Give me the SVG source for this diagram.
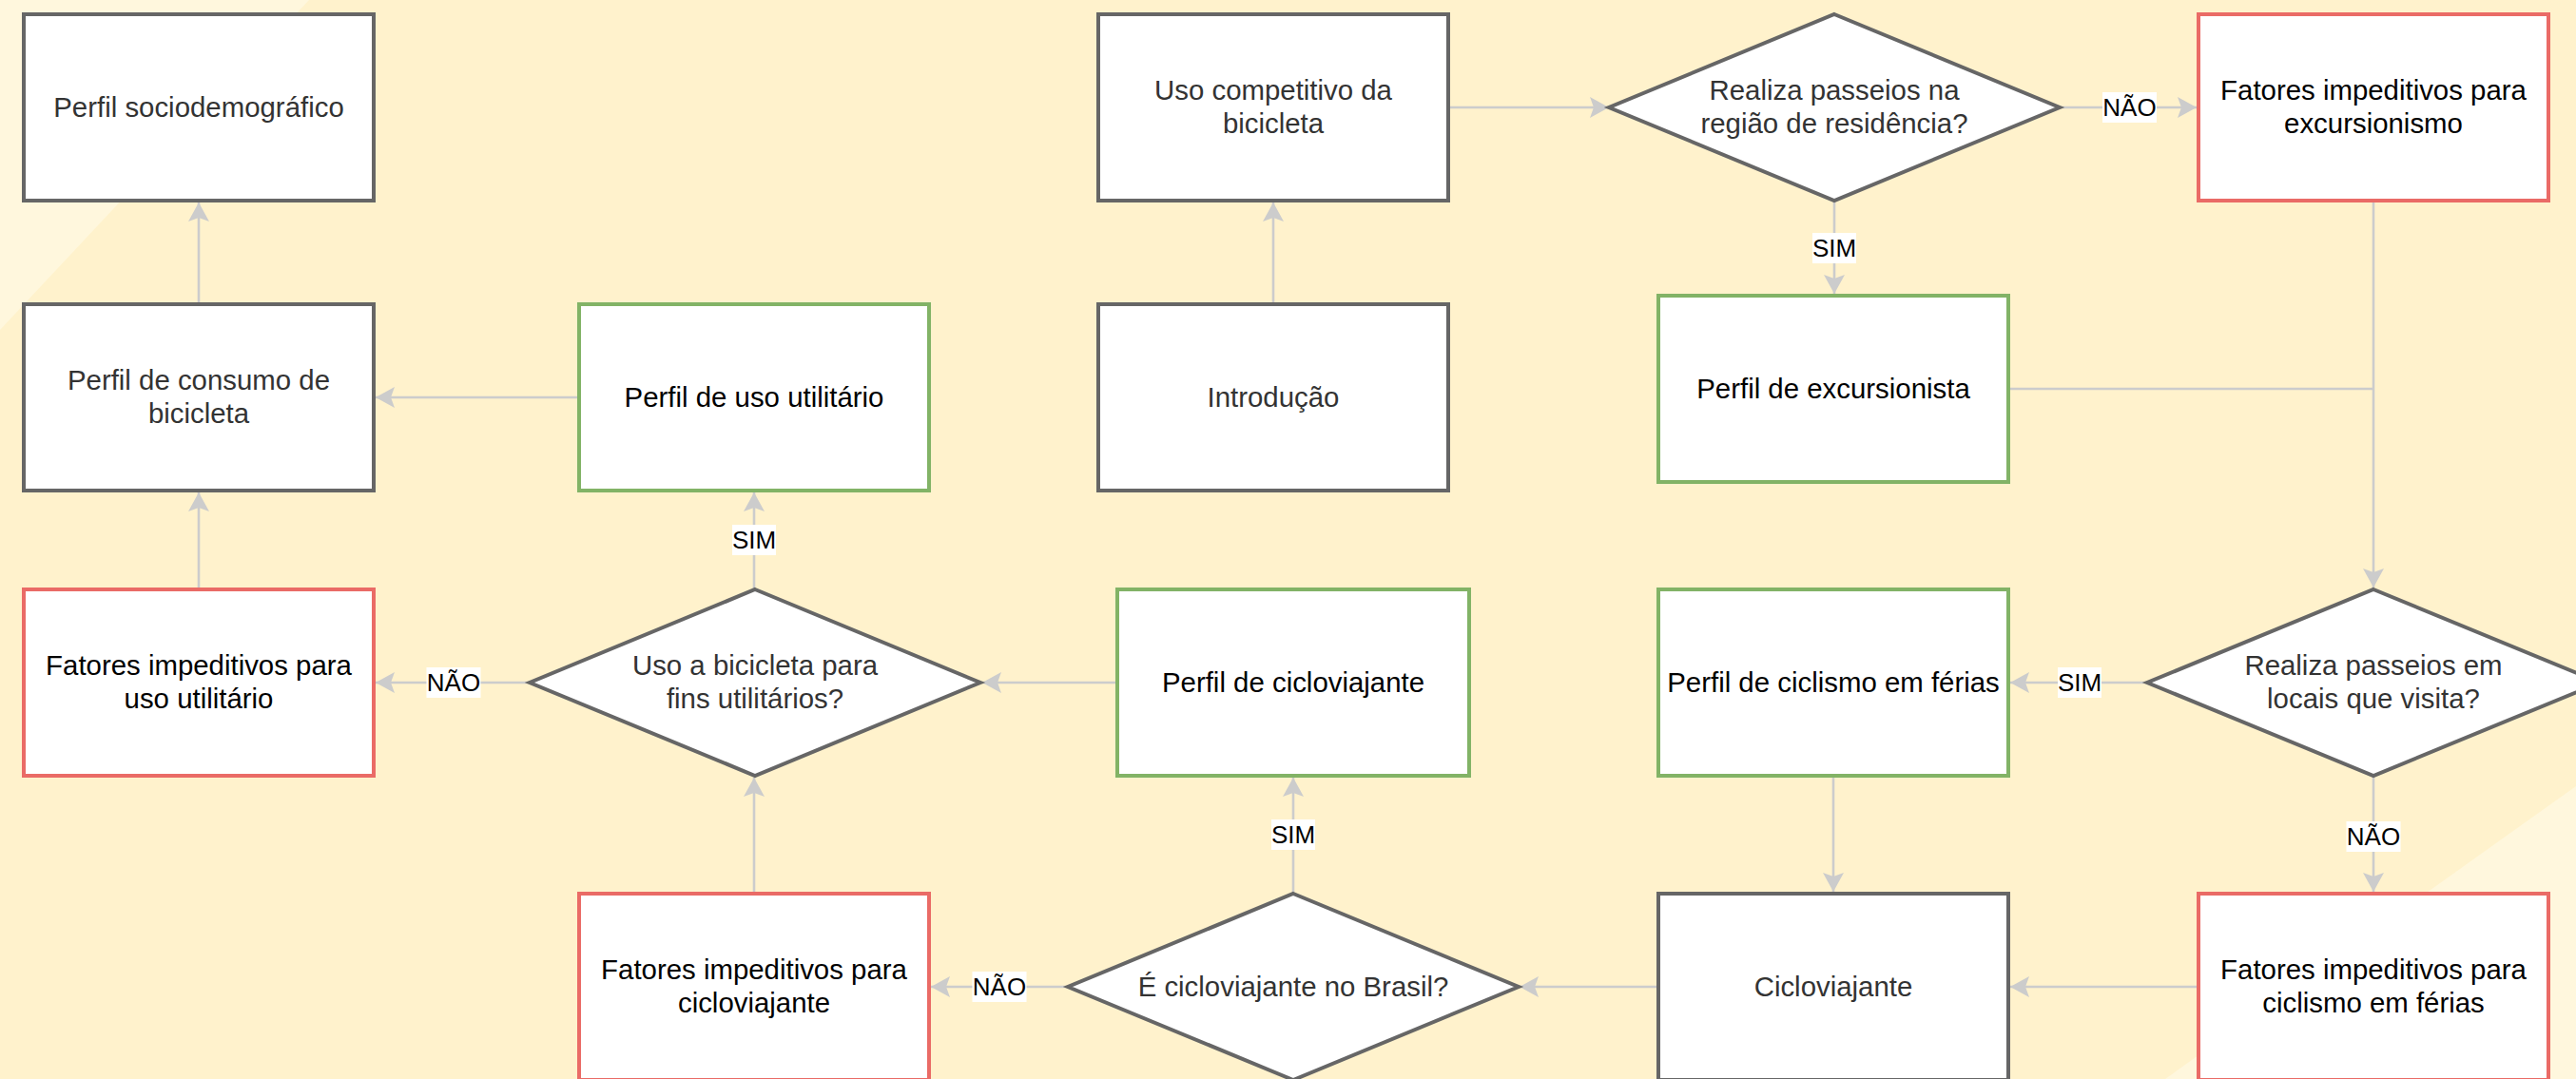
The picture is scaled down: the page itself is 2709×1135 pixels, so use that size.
<svg xmlns="http://www.w3.org/2000/svg" width="2709" height="1135" viewBox="0 0 2709 1135">
<defs>
<style>
.bg{fill:#FFF2CC}
.bgl{fill:#FFF7DD}
.n{fill:#FFFFFF;stroke:#666666;stroke-width:4}
.g{fill:#FFFFFF;stroke:#82B366;stroke-width:4}
.r{fill:#FFFFFF;stroke:#EA6B66;stroke-width:4}
.t{font-family:"Liberation Sans",Arial,sans-serif;font-size:29.4px;text-anchor:middle;fill:#333333}
.tb{font-family:"Liberation Sans",Arial,sans-serif;font-size:29.4px;text-anchor:middle;fill:#000000}
.c{fill:none;stroke:#CCCCCC;stroke-width:2.6}
.ca{fill:none;stroke:#CCCCCC;stroke-width:2.6;marker-end:url(#arr)}
.lb{fill:#FFFFFF}
.lt{font-family:"Liberation Sans",Arial,sans-serif;font-size:26px;text-anchor:middle;fill:#000000}
</style>
<marker id="arr" markerUnits="userSpaceOnUse" markerWidth="22" markerHeight="22" refX="20" refY="11" orient="auto">
<path d="M0,0 L20,11 L0,22 L4,11 Z" fill="#CCCCCC"/>
</marker>
</defs>
<rect class="bg" x="0" y="0" width="2709" height="1135"/>
<polygon class="bgl" points="0,0 325,0 0,347"/>
<polygon class="bgl" points="2709,827 2709,1135 2277,1135"/>

<g id="connectors">
<path class="ca" d="M1339,320 L1339,213"/>
<path class="ca" d="M1523,113 L1692,113"/>
<path class="ca" d="M2166,113 L2310,113"/>
<path class="ca" d="M1929,211 L1929,309"/>
<path class="ca" d="M2496,211 L2496,618"/>
<path class="c" d="M2112,409 L2496,409"/>
<path class="ca" d="M2259,718 L2114,718"/>
<path class="ca" d="M2496,816 L2496,938"/>
<path class="ca" d="M1928,816 L1928,938"/>
<path class="ca" d="M2311,1038 L2114,1038"/>
<path class="ca" d="M1744,1038 L1598,1038"/>
<path class="ca" d="M1123,1038 L979,1038"/>
<path class="ca" d="M1360,940 L1360,818"/>
<path class="ca" d="M793,940 L793,818"/>
<path class="ca" d="M1175,718 L1033,718"/>
<path class="ca" d="M557,718 L395,718"/>
<path class="ca" d="M793,620 L793,518"/>
<path class="ca" d="M609,418 L395,418"/>
<path class="ca" d="M209,619 L209,518"/>
<path class="ca" d="M209,320 L209,213"/>
<g id="labels">
<rect class="lb" x="2211" y="97" width="57" height="32"/><text class="lt" x="2239.5" y="122">NÃO</text>
<rect class="lb" x="1906" y="245" width="46" height="32"/><text class="lt" x="1929" y="270">SIM</text>
<rect class="lb" x="2164" y="702" width="46" height="32"/><text class="lt" x="2187" y="727">SIM</text>
<rect class="lb" x="2467.5" y="864" width="57" height="32"/><text class="lt" x="2496" y="889">NÃO</text>
<rect class="lb" x="1022.5" y="1022" width="57" height="32"/><text class="lt" x="1051" y="1047">NÃO</text>
<rect class="lb" x="1337" y="862" width="46" height="32"/><text class="lt" x="1360" y="887">SIM</text>
<rect class="lb" x="448.5" y="702" width="57" height="32"/><text class="lt" x="477" y="727">NÃO</text>
<rect class="lb" x="770" y="552" width="46" height="32"/><text class="lt" x="793" y="577">SIM</text>
</g>
</g>

<g id="perfil-sociodemografico">
<rect class="n" x="25" y="15" width="368" height="196"/>
<text class="t" x="209" y="123">Perfil sociodemográfico</text>
</g>
<g id="perfil-consumo">
<rect class="n" x="25" y="320" width="368" height="196"/>
<text class="t" x="209" y="410">Perfil de consumo de</text>
<text class="t" x="209" y="445">bicicleta</text>
</g>
<g id="perfil-uso-utilitario">
<rect class="g" x="609" y="320" width="368" height="196"/>
<text class="tb" x="793" y="428">Perfil de uso utilitário</text>
</g>
<g id="introducao">
<rect class="n" x="1155" y="320" width="368" height="196"/>
<text class="t" x="1339" y="428">Introdução</text>
</g>
<g id="uso-competitivo">
<rect class="n" x="1155" y="15" width="368" height="196"/>
<text class="t" x="1339" y="105">Uso competitivo da</text>
<text class="t" x="1339" y="140">bicicleta</text>
</g>
<g id="realiza-residencia">
<polygon class="n" points="1929,15 2166,113 1929,211 1692,113"/>
<text class="t" x="1929" y="105">Realiza passeios na</text>
<text class="t" x="1929" y="140">região de residência?</text>
</g>
<g id="fatores-excursionismo">
<rect class="r" x="2312" y="15" width="368" height="196"/>
<text class="tb" x="2496" y="105">Fatores impeditivos para</text>
<text class="tb" x="2496" y="140">excursionismo</text>
</g>
<g id="perfil-excursionista">
<rect class="g" x="1744" y="311" width="368" height="196"/>
<text class="tb" x="1928" y="419">Perfil de excursionista</text>
</g>
<g id="realiza-visita">
<polygon class="n" points="2496,620 2734,718 2496,816 2258,718"/>
<text class="t" x="2496" y="710">Realiza passeios em</text>
<text class="t" x="2496" y="745">locais que visita?</text>
</g>
<g id="perfil-ciclismo-ferias">
<rect class="g" x="1744" y="620" width="368" height="196"/>
<text class="tb" x="1928" y="728">Perfil de ciclismo em férias</text>
</g>
<g id="fatores-ciclismo-ferias">
<rect class="r" x="2312" y="940" width="368" height="196"/>
<text class="tb" x="2496" y="1030">Fatores impeditivos para</text>
<text class="tb" x="2496" y="1065">ciclismo em férias</text>
</g>
<g id="cicloviajante">
<rect class="n" x="1744" y="940" width="368" height="196"/>
<text class="t" x="1928" y="1048">Cicloviajante</text>
</g>
<g id="e-cicloviajante-brasil">
<polygon class="n" points="1360,940 1597,1038 1360,1136 1123,1038"/>
<text class="t" x="1360" y="1048">É cicloviajante no Brasil?</text>
</g>
<g id="perfil-cicloviajante">
<rect class="g" x="1175" y="620" width="370" height="196"/>
<text class="tb" x="1360" y="728">Perfil de cicloviajante</text>
</g>
<g id="uso-fins-utilitarios">
<polygon class="n" points="794,620 1031,718 794,816 557,718"/>
<text class="t" x="794" y="710">Uso a bicicleta para</text>
<text class="t" x="794" y="745">fins utilitários?</text>
</g>
<g id="fatores-uso-utilitario">
<rect class="r" x="25" y="620" width="368" height="196"/>
<text class="tb" x="209" y="710">Fatores impeditivos para</text>
<text class="tb" x="209" y="745">uso utilitário</text>
</g>
<g id="fatores-cicloviajante">
<rect class="r" x="609" y="940" width="368" height="196"/>
<text class="tb" x="793" y="1030">Fatores impeditivos para</text>
<text class="tb" x="793" y="1065">cicloviajante</text>
</g>
</svg>
